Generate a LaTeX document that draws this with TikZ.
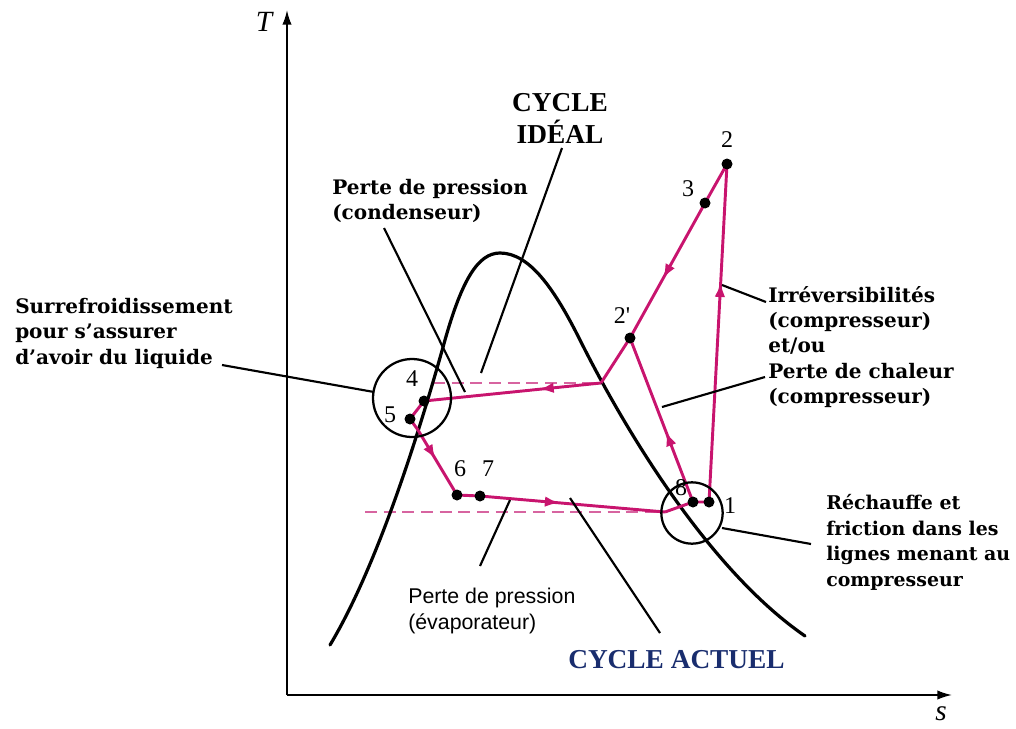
\documentclass[tikz,border=0pt]{standalone}
\usepackage{fontspec}
\setmainfont{Liberation Serif}
\newfontfamily\lblfont{DejaVu Serif}
\newfontfamily\sansf{Liberation Sans}
\usetikzlibrary{arrows.meta,decorations.markings}
\definecolor{mag}{RGB}{200,20,110}
\definecolor{magd}{RGB}{215,100,160}
\definecolor{navy}{RGB}{25,45,110}
\begin{document}
\begin{tikzpicture}[x=0.75pt,y=-0.75pt,
 mline/.style={mag,line width=2.2pt,line join=round},
 dline/.style={magd,line width=1.8pt,dash pattern=on 9pt off 5pt},
 leader/.style={black,line width=1.6pt},
 dot/.style={circle,fill=black,inner sep=0pt,minimum size=6.5pt},
 num/.style={font=\fontsize{18}{20}\selectfont,inner sep=0pt},
 lbl/.style={font=\lblfont\bfseries\fontsize{15}{19}\selectfont,align=left,inner sep=0pt,anchor=north west},
 midarrow/.style={postaction={decorate,decoration={markings,mark=at position #1 with {\arrow{Latex[length=11pt,width=8pt]}}}}},
 ring/.style={circle,draw=black,line width=1.7pt,inner sep=0pt}]
\useasboundingbox (0,0) rectangle (1016,728);
% axes
\coordinate (O) at (287,695);
\coordinate (Ttop) at (287,10);
\coordinate (Sright) at (952,695);
\draw[line width=1.3pt,-{Latex[length=11pt,width=7pt]}] (O) -- (Ttop);
\draw[line width=1.3pt,-{Latex[length=11pt,width=7pt]}] (O) -- (Sright);
\node[font=\itshape\fontsize{22}{22}\selectfont] (T) at (264,22) {T};
\node[font=\itshape\fontsize{22}{22}\selectfont] (s) at (941,714) {s};
% dashed ideal lines
\coordinate (di1) at (433,383); \coordinate (di2) at (600,383);
\coordinate (di3) at (365,512); \coordinate (di4) at (662,512);
\draw[dline] (di1) -- (di2);
\draw[dline] (di3) -- (di4);
% saturation dome
\draw[line width=2.4pt,line cap=round] (330,645) .. controls (378,565) and (420,430) .. (445,340)
  .. controls (462,280) and (478,253) .. (500,253)
  .. controls (530,253) and (555,290) .. (580,340)
  .. controls (620,420) and (705,567) .. (805,636);
% state points
\node[dot] (n2) at (727,164) {};
\node[dot] (n3) at (705,203) {};
\node[dot] (n2p) at (630,338) {};
\node[dot] (n4) at (424,401) {};
\node[dot] (n5) at (410,419) {};
\node[dot] (n6) at (457,495) {};
\node[dot] (n7) at (480,496) {};
\node[dot] (n8) at (693,502) {};
\node[dot] (n1) at (709,502) {};
\coordinate (jc) at (601,383);
\coordinate (b5) at (418,430);
\coordinate (e8) at (665,512);
% actual cycle
\draw[mline] (n2.center) -- (n3.center);
\draw[mline,midarrow=0.56] (n3.center) -- (n2p.center);
\draw[mline] (n2p.center) -- (jc);
\draw[mline,midarrow=0.35] (jc) -- (n4.center);
\draw[mline] (n4.center) -- (n5.center) -- (b5);
\draw[mline,midarrow=0.45] (b5) -- (n6.center);
\draw[mline] (n6.center) -- (n7.center);
\draw[mline,midarrow=0.43] (n7.center) -- (e8);
\draw[mline] (e8) -- (n8.center) -- (n1.center);
\draw[mline,midarrow=0.43] (n8.center) -- (n2p.center);
\draw[mline,midarrow=0.65] (n1.center) -- (n2.center);
% redraw dots on top
\foreach \n in {n2,n3,n2p,n4,n5,n6,n7,n8,n1} \fill (\n) circle[radius=5.5];
% numbers
\node[num] (l2) at (727,140) {2};
\node[num] (l3) at (688,189) {3};
\node[num] (l2p) at (622,316) {2\textquotesingle};
\node[num] (l4) at (412,379) {4};
\node[num] (l5) at (390,415) {5};
\node[num] (l6) at (460,469) {6};
\node[num] (l7) at (488,469) {7};
\node[num] (l8) at (681,488) {8};
\node[num] (l1) at (730,506) {1};
% rings
\node[ring,minimum size=58.5pt] (r45) at (412,398) {};
\node[ring,minimum size=46pt] (r81) at (692,513) {};
% labels
\node[font=\bfseries\fontsize{20.5}{24}\selectfont,align=center,inner sep=0pt] (tideal) at (560,118) {CYCLE\\IDÉAL};
\node[lbl] (tcond) at (332,179) {Perte de pression\\(condenseur)};
\node[lbl] (tsurr) at (15,298) {Surrefroidissement\\pour s’assurer\\d’avoir du liquide};
\node[lbl] (tirr) at (768,286) {Irréversibilités\\(compresseur)\\et/ou\\Perte de chaleur\\(compresseur)};
\node[lbl,font=\lblfont\bfseries\fontsize{14.2}{19.2}\selectfont] (trech) at (826,494) {Réchauffe et\\friction dans les\\lignes menant au\\compresseur};
\node[font=\sansf\fontsize{16}{19}\selectfont,align=left,inner sep=0pt,anchor=north west] (tevap) at (408,588) {Perte de pression\\(évaporateur)};
\node[font=\bfseries\fontsize{20.5}{24}\selectfont,text=navy,inner sep=0pt,anchor=west] (tactuel) at (568,660) {CYCLE ACTUEL};
% leader lines
\coordinate (a1) at (222,365); \coordinate (a2) at (374,392);
\coordinate (b1) at (384,228); \coordinate (b2) at (465,392);
\coordinate (c1) at (562,148); \coordinate (c2) at (481,373);
\coordinate (d1) at (766,302); \coordinate (d2) at (722,285);
\coordinate (e1) at (765,377); \coordinate (e2) at (662,407);
\coordinate (f1) at (811,544); \coordinate (f2) at (722,528);
\coordinate (g1) at (480,566); \coordinate (g2) at (510,500);
\coordinate (h1) at (660,633); \coordinate (h2) at (570,498);
\draw[leader] (a1) -- (a2);
\draw[leader] (b1) -- (b2);
\draw[leader] (c1) -- (c2);
\draw[leader] (d1) -- (d2);
\draw[leader] (e1) -- (e2);
\draw[leader] (f1) -- (f2);
\draw[leader] (g1) -- (g2);
\draw[leader] (h1) -- (h2);
\end{tikzpicture}
\end{document}
